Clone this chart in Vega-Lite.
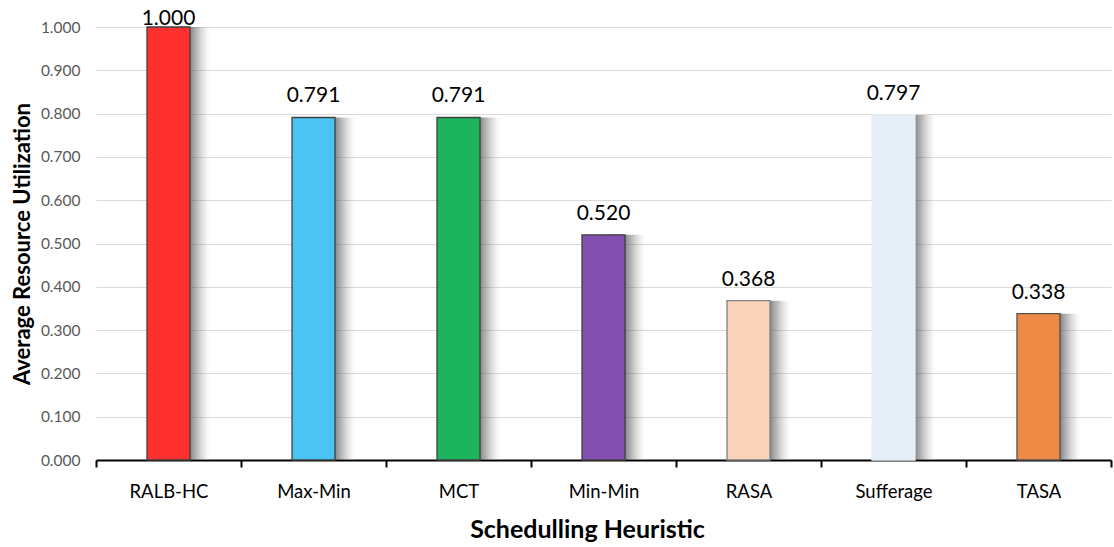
{
  "$schema": "https://vega.github.io/schema/vega-lite/v6.json",
  "width": 1015,
  "height": 433,
  "autosize": {"type": "none"},
  "padding": {"left": 96, "top": 27, "right": 3, "bottom": 87},
  "background": "white",
  "config": {
    "view": {"stroke": null},
    "font": "Lato"
  },
  "data": {
    "values": [
      {"heuristic": "RALB-HC", "utilization": 1.000},
      {"heuristic": "Max-Min", "utilization": 0.791},
      {"heuristic": "MCT", "utilization": 0.791},
      {"heuristic": "Min-Min", "utilization": 0.520},
      {"heuristic": "RASA", "utilization": 0.368},
      {"heuristic": "Sufferage", "utilization": 0.797},
      {"heuristic": "TASA", "utilization": 0.338}
    ]
  },
  "encoding": {
    "x": {
      "field": "heuristic",
      "type": "nominal",
      "sort": null,
      "scale": {"paddingInner": 0, "paddingOuter": 0},
      "axis": {
        "title": "Schedulling Heuristic",
        "titleFont": "Lato",
        "titleFontSize": 25,
        "titleFontWeight": "bold",
        "titleColor": "#000000",
        "titlePadding": 17,
        "titleX": 491,
        "labelAngle": 0,
        "labelFont": "Lato",
        "labelFontSize": 18.5,
        "labelColor": "#000000",
        "labelPadding": 15,
        "domainColor": "#000000",
        "domainWidth": 2,
        "tickBand": "extent",
        "tickColor": "#000000",
        "tickWidth": 2,
        "tickSize": 7,
        "grid": false
      }
    },
    "y": {
      "field": "utilization",
      "type": "quantitative",
      "scale": {"domain": [0, 1], "nice": false},
      "axis": {
        "title": "Average Resource Utilization",
        "titleFont": "Lato",
        "titleFontSize": 22,
        "titleFontWeight": "bold",
        "titleColor": "#000000",
        "titlePadding": 6,
        "values": [0, 0.1, 0.2, 0.3, 0.4, 0.5, 0.6, 0.7, 0.8, 0.9, 1.0],
        "format": ".3f",
        "labelFont": "Lato",
        "labelFontSize": 15.5,
        "labelColor": "#595959",
        "labelPadding": 16,
        "domain": false,
        "ticks": false,
        "grid": true,
        "gridColor": "#d9d9d9",
        "gridWidth": 1
      }
    }
  },
  "layer": [
    {
      "mark": {
        "type": "bar",
        "size": 43,
        "xOffset": 22,
        "fill": {
          "gradient": "linear",
          "x1": 0, "y1": 0, "x2": 1, "y2": 0,
          "stops": [
            {"offset": 0, "color": "rgba(60,60,60,0.7)"},
            {"offset": 0.49, "color": "rgba(60,60,60,0.62)"},
            {"offset": 0.66, "color": "rgba(100,100,100,0.42)"},
            {"offset": 0.84, "color": "rgba(160,160,160,0.2)"},
            {"offset": 1, "color": "rgba(255,255,255,0)"}
          ]
        }
      }
    },
    {
      "mark": {"type": "bar", "size": 43, "strokeWidth": 1.3},
      "encoding": {
        "fill": {
          "field": "heuristic",
          "type": "nominal",
          "legend": null,
          "scale": {
            "domain": ["RALB-HC", "Max-Min", "MCT", "Min-Min", "RASA", "Sufferage", "TASA"],
            "range": ["#ff3030", "#4cc4f3", "#1cb45c", "#8350b0", "#f9d3b9", "#e6eff8", "#ef8a46"]
          }
        },
        "stroke": {
          "field": "heuristic",
          "type": "nominal",
          "legend": null,
          "scale": {
            "domain": ["RALB-HC", "Max-Min", "MCT", "Min-Min", "RASA", "Sufferage", "TASA"],
            "range": ["#404040", "#404040", "#404040", "#404040", "#808080", "#e6eff8", "#505050"]
          }
        }
      }
    },
    {
      "transform": [{"filter": "datum.utilization < 1"}],
      "mark": {"type": "text", "font": "Lato", "fontSize": 21, "color": "#000000", "baseline": "alphabetic", "dy": -15},
      "encoding": {"text": {"field": "utilization", "type": "quantitative", "format": ".3f"}}
    },
    {
      "transform": [{"filter": "datum.utilization >= 1"}],
      "mark": {"type": "text", "font": "Lato", "fontSize": 21, "color": "#000000", "baseline": "alphabetic", "dy": -2},
      "encoding": {"text": {"field": "utilization", "type": "quantitative", "format": ".3f"}}
    }
  ]
}
